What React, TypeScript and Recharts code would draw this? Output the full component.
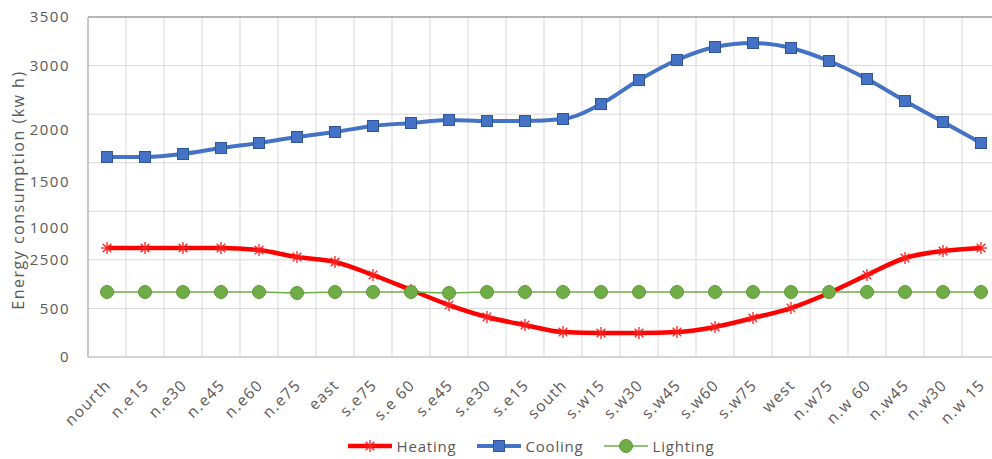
import React from "react";
import {
  CartesianGrid,
  Legend,
  Line,
  LineChart,
  ReferenceLine,
  XAxis,
  YAxis
} from "recharts";

const CATEGORIES = [
  "nourth", "n.e15", "n.e30", "n.e45", "n.e60", "n.e75", "east", "s.e75",
  "s.e 60", "s.e45", "s.e30", "s.e15", "south", "s.w15", "s.w30", "s.w45",
  "s.w60", "s.w75", "west", "n.w75", "n.w 60", "n.w45", "n.w30", "n.w 15"
];

const HEATING = [
  1122, 1122, 1122, 1122, 1101, 1029, 978, 844, 690, 535, 412, 329,
  257, 247, 247, 257, 309, 401, 504, 659, 844, 1019, 1091, 1122
];

const COOLING = [
  2059, 2059, 2090, 2151, 2203, 2265, 2316, 2378, 2409, 2440, 2429, 2429,
  2450, 2604, 2851, 3057, 3191, 3232, 3181, 3047, 2862, 2635, 2419, 2203
];

const LIGHTING = [
  669, 669, 669, 669, 669, 659, 669, 669, 669, 659, 669, 669,
  669, 669, 669, 669, 669, 669, 669, 669, 669, 669, 669, 669
];

// the printed y labels sit at uneven places on the axis
const Y_TICK_VALUES = [0, 500, 1000, 1328, 1801, 2337, 3000, 3500];
const Y_TICK_LABELS = ["0", "500", "2500", "1000", "1500", "2000", "3000", "3500"];
const Y_GRID = [0, 500, 1000, 1500, 2000, 2500, 3000, 3500];

const FONT = "'Open Sans', sans-serif";
const TEXT = "#595959";

const data = CATEGORIES.map((name, idx) => ({
  idx,
  name,
  Heating: HEATING[idx],
  Cooling: COOLING[idx],
  Lighting: LIGHTING[idx]
}));

const xTicks = CATEGORIES.map((_, i) => i);
const xGrid = Array.from({ length: CATEGORIES.length + 1 }, (_, i) => i - 0.5);

function XTick(props: any) {
  const { x, y, payload } = props;
  return (
    <g transform={`translate(${x + 5},${y + 21})`}>
      <text
        x={0}
        y={0}
        textAnchor="end"
        transform="rotate(-45)"
        fill={TEXT}
        fontSize={15.5}
        fontFamily={FONT}
        letterSpacing={1.3}
      >
        {CATEGORIES[payload.value]}
      </text>
    </g>
  );
}

function StarDot(props: any) {
  const { cx, cy } = props;
  if (cx == null || cy == null) return null;
  const r = 6;
  const d = r * 0.72;
  return (
    <g stroke="#ff2020" strokeWidth={1.3}>
      <line x1={cx - r} y1={cy} x2={cx + r} y2={cy} />
      <line x1={cx} y1={cy - r} x2={cx} y2={cy + r} />
      <line x1={cx - d} y1={cy - d} x2={cx + d} y2={cy + d} />
      <line x1={cx - d} y1={cy + d} x2={cx + d} y2={cy - d} />
    </g>
  );
}

function SquareDot(props: any) {
  const { cx, cy } = props;
  if (cx == null || cy == null) return null;
  return <rect x={cx - 5.5} y={cy - 5.5} width={11} height={11} fill="#4472c4" stroke="#2f5597" strokeWidth={1} />;
}

function CircleDot(props: any) {
  const { cx, cy } = props;
  if (cx == null || cy == null) return null;
  return <circle cx={cx} cy={cy} r={6.5} fill="#70ad47" stroke="#5e9a3b" strokeWidth={1} />;
}

function LegendContent() {
  const item = (label: string, color: string, width: number, marker: React.ReactNode) => (
    <div style={{ display: "flex", alignItems: "center", marginRight: 20 }}>
      <svg width={44} height={20} style={{ marginRight: 5 }}>
        <line x1={0} y1={10} x2={44} y2={10} stroke={color} strokeWidth={width} />
        {marker}
      </svg>
      <span style={{ fontFamily: FONT, fontSize: 15, color: TEXT, letterSpacing: 0.8 }}>{label}</span>
    </div>
  );
  return (
    <div
      style={{
        display: "flex",
        justifyContent: "center",
        height: 32,
        paddingTop: 6,
        paddingLeft: 72,
        boxSizing: "border-box"
      }}
    >
      {item("Heating", "#ff0000", 4.5, <StarDot cx={22} cy={10} />)}
      {item("Cooling", "#4472c4", 4, <SquareDot cx={22} cy={10} />)}
      {item("Lighting", "#70ad47", 1.5, <CircleDot cx={22} cy={10} />)}
    </div>
  );
}

function YLabel(props: any) {
  const { viewBox } = props;
  const x = 18;
  const y = viewBox.y + viewBox.height / 2 + 3;
  return (
    <text
      x={x}
      y={y}
      transform={`rotate(-90, ${x}, ${y})`}
      textAnchor="middle"
      dominantBaseline="central"
      fill={TEXT}
      fontSize={16}
      fontFamily={FONT}
      letterSpacing={1.5}
    >
      Energy consumption (kw h)
    </text>
  );
}

export default function App() {
  return (
    <div
      style={{
        position: "absolute",
        left: 0,
        top: 0,
        width: 992,
        height: 459,
        overflow: "hidden",
        background: "#fff"
      }}
    >
      <LineChart width={1010} height={459} data={data} margin={{ top: 17, right: 10, left: 0, bottom: 0 }}>
        <CartesianGrid stroke="#d9d9d9" horizontalValues={Y_GRID} verticalValues={xGrid} />
        <XAxis
          type="number"
          dataKey="idx"
          domain={[-0.5, CATEGORIES.length - 0.5]}
          ticks={xTicks}
          interval={0}
          tick={<XTick />}
          tickLine={false}
          axisLine={{ stroke: "#bfbfbf" }}
          height={70}
        />
        <YAxis
          type="number"
          domain={[0, 3500]}
          ticks={Y_TICK_VALUES}
          interval={0}
          width={88}
          tickLine={false}
          tickSize={0}
          tickMargin={18}
          axisLine={{ stroke: "#a6a6a6" }}
          tickFormatter={(v: number) => Y_TICK_LABELS[Y_TICK_VALUES.indexOf(v)]}
          tick={{ fill: TEXT, fontSize: 15, fontFamily: FONT, letterSpacing: 1.5 }}
          label={<YLabel />}
        />
        <ReferenceLine y={3500} stroke="#7f7f7f" strokeWidth={1.2} />
        <Legend verticalAlign="bottom" content={<LegendContent />} wrapperStyle={{ left: 0, width: 1010 }} />
        <Line
          type="monotone"
          dataKey="Heating"
          stroke="#ff0000"
          strokeWidth={4.5}
          dot={<StarDot />}
          isAnimationActive={false}
        />
        <Line
          type="monotone"
          dataKey="Cooling"
          stroke="#4472c4"
          strokeWidth={4}
          dot={<SquareDot />}
          isAnimationActive={false}
        />
        <Line
          type="linear"
          dataKey="Lighting"
          stroke="#70ad47"
          strokeWidth={1.5}
          dot={<CircleDot />}
          isAnimationActive={false}
        />
      </LineChart>
    </div>
  );
}
